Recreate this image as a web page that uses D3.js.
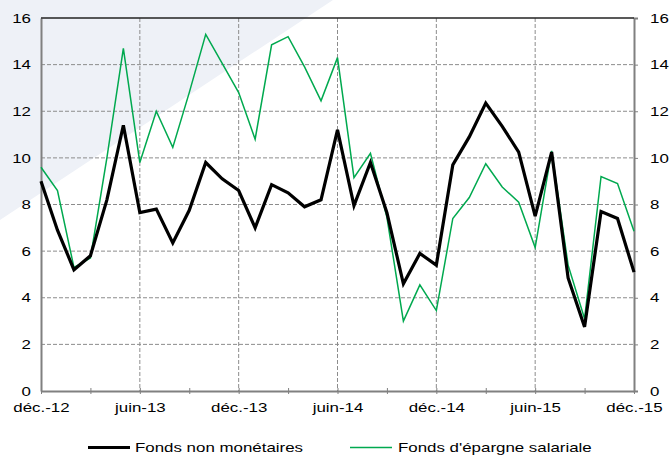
<!DOCTYPE html>
<html><head><meta charset="utf-8">
<script src="https://cdn.jsdelivr.net/npm/d3@7"></script>
<style>
body{margin:0;background:#fff;}
svg{display:block;font-family:"Liberation Sans",Arial,sans-serif;}
</style></head>
<body><svg id="c" width="670" height="456"></svg>
<script>
const tickLabels = ["déc.-12","juin-13","déc.-13","juin-14","déc.-14","juin-15","déc.-15"];
const fondsNonMonetaires = [9.0,6.9,5.2,5.8,8.2,11.4,7.65,7.8,6.35,7.75,9.8,9.1,8.6,7.0,8.85,8.5,7.9,8.2,11.2,7.95,9.8,7.65,4.6,5.9,5.4,9.7,10.9,12.35,11.35,10.25,7.5,10.25,4.85,2.75,7.7,7.4,5.1];
const fondsEpargneSalariale = [9.6,8.6,5.3,5.7,10.0,14.7,9.8,12.0,10.45,12.8,15.3,14.05,12.8,10.8,14.85,15.2,13.9,12.45,14.3,9.15,10.2,7.45,3.0,4.55,3.45,7.4,8.3,9.75,8.75,8.1,6.15,10.3,5.4,3.1,9.2,8.9,6.85];
const yTicks = [0,2,4,6,8,10,12,14,16];
const legendLabels = ["Fonds non monétaires","Fonds d'épargne salariale"];

const svg = d3.select("#c");
const L=41, R=634, T=18, B=391;
const SX = 1.3;
const x = d3.scaleLinear().domain([0,36]).range([L,R]);
const y = d3.scaleLinear().domain([0,16]).range([B,T]);

function stretch(sel){
  sel.each(function(){
    const t=d3.select(this);
    const ax=+(t.attr("x")||0);
    t.attr("transform",`translate(${ax},0) scale(${SX},1) translate(${-ax},0)`);
  });
}

// background diagonal band
svg.append("path").attr("d","M0,0 L333,0 L0,220 Z").attr("fill","#eef1f7");

// grid
const g = svg.append("g");
yTicks.filter(v=>v>0&&v<16).forEach(v=>{
  g.append("line").attr("x1",L).attr("x2",R).attr("y1",y(v)).attr("y2",y(v))
   .attr("stroke","#8c8c8c").attr("stroke-width",1).attr("stroke-dasharray","4,2");
});
d3.range(6,36,6).forEach(i=>{
  g.append("line").attr("x1",x(i)).attr("x2",x(i)).attr("y1",T).attr("y2",B)
   .attr("stroke","#8c8c8c").attr("stroke-width",1).attr("stroke-dasharray","4,2");
});

// axes
const axL = d3.axisLeft(y).tickValues(yTicks).tickSize(0).tickPadding(10);
const axR = d3.axisRight(y).tickValues(yTicks).tickSize(4).tickPadding(12);
const axB = d3.axisBottom(x).tickValues(d3.range(0,37,3)).tickSize(6).tickSizeOuter(0)
   .tickFormat(i=> i%6===0 ? tickLabels[i/6] : "").tickPadding(6);
const styleAx = sel=>{
  sel.selectAll("path").attr("stroke","#808080").attr("stroke-width",2);
  sel.selectAll("line").attr("stroke","#808080");
  sel.selectAll("text").attr("fill","#000").style("font-size","13px").style("font-family","'Liberation Sans',Arial,sans-serif");
};
const gl = svg.append("g").attr("transform",`translate(${L},0)`).call(axL).call(styleAx);
const gr = svg.append("g").attr("transform",`translate(${R},0)`).call(axR).call(styleAx);
gr.selectAll("text").attr("text-anchor","start");
const bx = svg.append("g").attr("transform",`translate(0,${B})`).call(axB).call(styleAx);
bx.selectAll(".tick line").attr("y1",-3).attr("y2",3);
stretch(gl.selectAll("text")); stretch(gr.selectAll("text")); stretch(bx.selectAll("text"));
// top border
svg.append("line").attr("x1",L).attr("x2",R).attr("y1",T).attr("y2",T).attr("stroke","#222").attr("stroke-width",1.5);

const line = d3.line().x((d,i)=>x(i)).y(d=>y(d));
svg.append("path").datum(fondsEpargneSalariale).attr("d",line).attr("fill","none")
  .attr("stroke","#00a94f").attr("stroke-width",1.5).attr("stroke-linejoin","miter");
svg.append("path").datum(fondsNonMonetaires).attr("d",line).attr("fill","none")
  .attr("stroke","#000").attr("stroke-width",3.2).attr("stroke-linejoin","miter");

// legend
const leg = svg.append("g").style("font-size","13px");
const items=[{x:88,w:42,gap:5,c:"#000",sw:3},{x:350,w:42,gap:6,c:"#00a94f",sw:1.5}];
items.forEach((it,k)=>{
  leg.append("line").attr("x1",it.x).attr("x2",it.x+it.w).attr("y1",447.5).attr("y2",447.5).attr("stroke",it.c).attr("stroke-width",it.sw);
  leg.append("text").attr("x",it.x+it.w+it.gap).attr("y",447.5).attr("dy","0.35em").text(legendLabels[k]);
});
stretch(leg.selectAll("text"));
</script></body></html>
